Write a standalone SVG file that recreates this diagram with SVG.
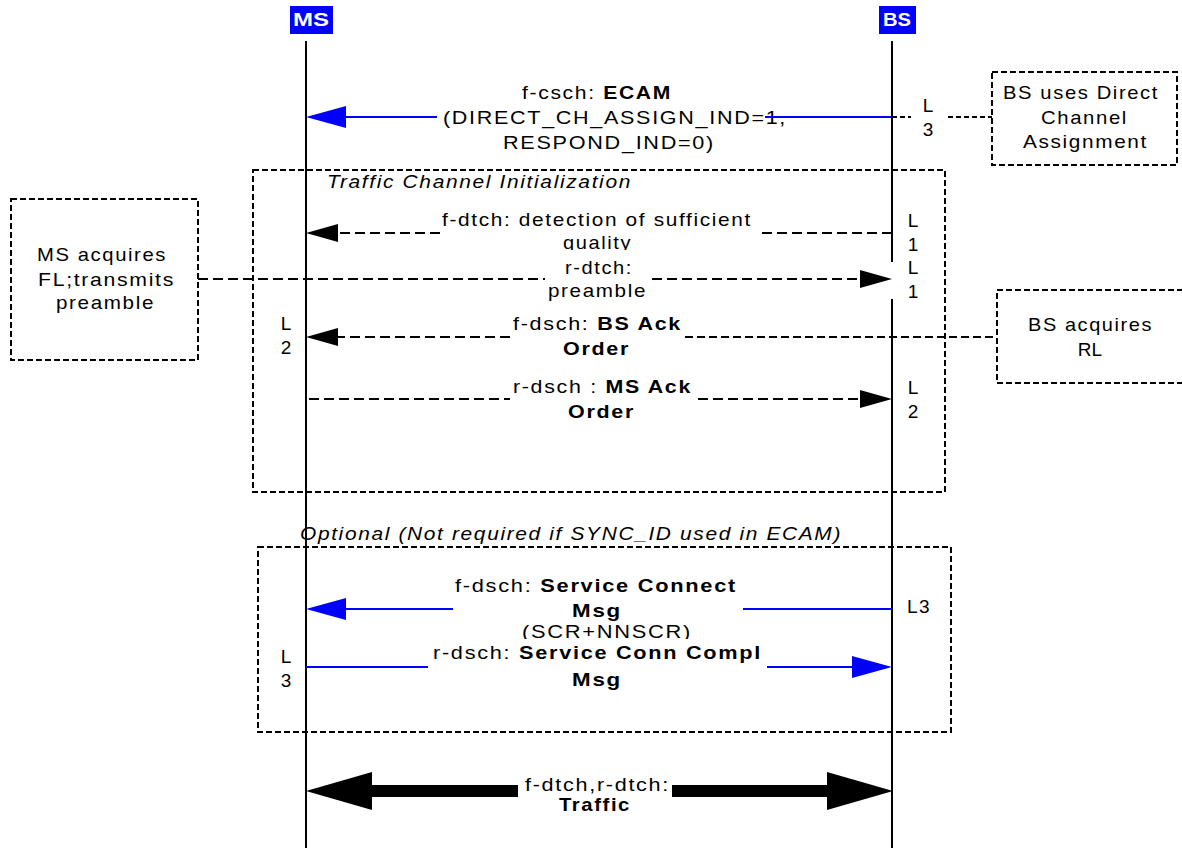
<svg xmlns="http://www.w3.org/2000/svg" width="1182" height="848" viewBox="0 0 1182 848">
<style>
text{font-family:"Liberation Sans",Arial,sans-serif;font-size:19px;fill:#000;letter-spacing:1.5px}
.b{font-weight:bold}
.i{font-style:italic}
.m{text-anchor:middle;letter-spacing:0}
.hdr{font-weight:bold;fill:#fff;font-size:18px;letter-spacing:0}
.life{stroke:#000;stroke-width:2;fill:none}
.frame{fill:none;stroke:#000;stroke-width:2;stroke-dasharray:6 3}
.note{fill:#fff;stroke:#000;stroke-width:2;stroke-dasharray:6 3}
.dmsg{stroke:#000;stroke-width:2;fill:none;stroke-dasharray:10 5}
.link{stroke:#000;stroke-width:2;fill:none;stroke-dasharray:8 4}
.slink{stroke:#000;stroke-width:2;fill:none;stroke-dasharray:5 3}
.bmsg{stroke:#0000ff;stroke-width:2;fill:none}
.thick{stroke:#000;stroke-width:12;fill:none}
</style>
<defs>
<marker id="hb" markerUnits="userSpaceOnUse" viewBox="0 0 40 22" markerWidth="40" markerHeight="22" refX="36" refY="11" orient="auto"><path d="M0,0 L40,11 L0,22 Z" fill="#0000ff" stroke="none"/></marker>
<marker id="hk" markerUnits="userSpaceOnUse" viewBox="0 0 32 18" markerWidth="32" markerHeight="18" refX="28" refY="9" orient="auto"><path d="M0,0 L32,9 L0,18 Z" fill="#000" stroke="none"/></marker>
<marker id="ht" markerUnits="userSpaceOnUse" viewBox="0 0 66 38" markerWidth="66" markerHeight="38" refX="0" refY="19" orient="auto"><path d="M0,0 L66,19 L0,38 Z" fill="#000" stroke="none"/></marker>
<clipPath id="cq"><rect x="520" y="225" width="160" height="25"/></clipPath>
<clipPath id="cs"><rect x="500" y="620" width="220" height="19"/></clipPath>
</defs>

<g id="MS">
<rect x="290" y="6" width="43" height="28" fill="#0000ff"/>
<text class="hdr" x="293" y="26" textLength="36" lengthAdjust="spacingAndGlyphs">MS</text>
<line class="life" x1="306" y1="41" x2="306" y2="848"/>
</g>
<g id="BS">
<rect x="879" y="6" width="37" height="28" fill="#0000ff"/>
<text class="hdr" x="883" y="26" textLength="28" lengthAdjust="spacingAndGlyphs">BS</text>
<line class="life" x1="892" y1="41" x2="892" y2="848"/>
<rect x="890" y="262" width="4" height="37" fill="#fff"/>
</g>

<g id="frame-tci">
<rect class="frame" x="253" y="170" width="692" height="322"/>
<text class="i" x="327" y="188" textLength="305" lengthAdjust="spacingAndGlyphs">Traffic Channel Initialization</text>
</g>
<g id="frame-optional">
<rect class="frame" x="258" y="547" width="693" height="185"/>
<text class="i" x="300" y="540" textLength="542" lengthAdjust="spacingAndGlyphs">Optional (Not required if SYNC_ID used in ECAM)</text>
</g>

<g id="note-direct">
<rect class="note" x="992" y="72" width="185" height="93"/>
<text x="1003" y="99" textLength="156" lengthAdjust="spacingAndGlyphs">BS uses Direct</text>
<text x="1041" y="124" textLength="87" lengthAdjust="spacingAndGlyphs">Channel</text>
<text x="1023" y="148" textLength="125" lengthAdjust="spacingAndGlyphs">Assignment</text>
</g>
<g id="note-ms-acquires">
<rect class="note" x="11" y="199" width="187" height="161"/>
<text x="37" y="261" textLength="130" lengthAdjust="spacingAndGlyphs">MS acquires</text>
<text x="38" y="286" textLength="137" lengthAdjust="spacingAndGlyphs">FL;transmits</text>
<text x="56" y="309" textLength="99" lengthAdjust="spacingAndGlyphs">preamble</text>
</g>
<g id="note-bs-acquires">
<rect class="note" x="997" y="290" width="186" height="93"/>
<text x="1028" y="331" textLength="125" lengthAdjust="spacingAndGlyphs">BS acquires</text>
<text class="m" x="1090" y="356" letter-spacing="-1">RL</text>
</g>

<g id="connectors">
<!-- ECAM -->
<line class="bmsg" x1="437" y1="117" x2="310" y2="117" marker-end="url(#hb)"/>
<text x="522" y="99" textLength="150" lengthAdjust="spacingAndGlyphs">f-csch: <tspan class="b">ECAM</tspan></text>
<text x="443" y="124" textLength="344" lengthAdjust="spacingAndGlyphs">(DIRECT_CH_ASSIGN_IND=1,</text>
<text x="503" y="149" textLength="212" lengthAdjust="spacingAndGlyphs">RESPOND_IND=0)</text>
<line class="bmsg" x1="765" y1="117" x2="892" y2="117"/>
<line class="slink" x1="892" y1="117" x2="911" y2="117"/>
<line class="slink" x1="948" y1="117" x2="992" y2="117"/>
<text class="m" x="928" y="112">L</text>
<text class="m" x="928" y="136">3</text>

<!-- f-dtch detection -->
<line class="dmsg" x1="440" y1="233" x2="310" y2="233" marker-end="url(#hk)"/>
<line class="dmsg" x1="892" y1="233" x2="757" y2="233"/>
<text x="442" y="226" textLength="310" lengthAdjust="spacingAndGlyphs">f-dtch: detection of sufficient</text>
<text x="563" y="249" textLength="69" lengthAdjust="spacingAndGlyphs" clip-path="url(#cq)">quality</text>
<text class="m" x="913" y="227">L</text>
<text class="m" x="913" y="251">1</text>

<!-- r-dtch preamble -->
<line class="dmsg" x1="198" y1="279" x2="545" y2="279"/>
<line class="dmsg" x1="652" y1="279" x2="888" y2="279" marker-end="url(#hk)"/>
<text x="565" y="274" textLength="68" lengthAdjust="spacingAndGlyphs">r-dtch:</text>
<text x="548" y="297" textLength="99" lengthAdjust="spacingAndGlyphs">preamble</text>
<text class="m" x="913" y="274">L</text>
<text class="m" x="913" y="298">1</text>

<!-- f-dsch BS Ack Order -->
<line class="dmsg" x1="510" y1="337" x2="310" y2="337" marker-end="url(#hk)"/>
<line class="link" x1="685" y1="337" x2="997" y2="337"/>
<text x="513" y="330" textLength="169" lengthAdjust="spacingAndGlyphs">f-dsch: <tspan class="b">BS Ack</tspan></text>
<text class="b" x="563" y="355" textLength="67" lengthAdjust="spacingAndGlyphs">Order</text>
<text class="m" x="286" y="330">L</text>
<text class="m" x="286" y="354">2</text>

<!-- r-dsch MS Ack Order -->
<line class="dmsg" x1="309" y1="399" x2="510" y2="399"/>
<line class="dmsg" x1="698" y1="399" x2="888" y2="399" marker-end="url(#hk)"/>
<text x="513" y="393" textLength="179" lengthAdjust="spacingAndGlyphs">r-dsch : <tspan class="b">MS Ack</tspan></text>
<text class="b" x="568" y="418" textLength="67" lengthAdjust="spacingAndGlyphs">Order</text>
<text class="m" x="913" y="394">L</text>
<text class="m" x="913" y="418">2</text>

<!-- f-dsch Service Connect -->
<line class="bmsg" x1="453" y1="609" x2="310" y2="609" marker-end="url(#hb)"/>
<line class="bmsg" x1="743" y1="609" x2="892" y2="609"/>
<text x="455" y="592" textLength="282" lengthAdjust="spacingAndGlyphs">f-dsch: <tspan class="b">Service Connect</tspan></text>
<text class="b" x="572" y="617" textLength="50" lengthAdjust="spacingAndGlyphs">Msg</text>
<text x="522" y="638" textLength="170" lengthAdjust="spacingAndGlyphs" clip-path="url(#cs)">(SCR+NNSCR)</text>
<text x="907" y="613" letter-spacing="0">L3</text>

<!-- r-dsch Service Conn Compl -->
<line class="bmsg" x1="306" y1="667" x2="428" y2="667"/>
<line class="bmsg" x1="767" y1="667" x2="888" y2="667" marker-end="url(#hb)"/>
<text x="433" y="659" textLength="329" lengthAdjust="spacingAndGlyphs">r-dsch: <tspan class="b">Service Conn Compl</tspan></text>
<text class="b" x="572" y="686" textLength="50" lengthAdjust="spacingAndGlyphs">Msg</text>
<text class="m" x="286" y="663">L</text>
<text class="m" x="286" y="687">3</text>

<!-- Traffic -->
<line class="thick" x1="518" y1="791" x2="372" y2="791" marker-end="url(#ht)"/>
<line class="thick" x1="672" y1="791" x2="827" y2="791" marker-end="url(#ht)"/>
<text x="525" y="791" font-size="18" textLength="145" lengthAdjust="spacingAndGlyphs">f-dtch,r-dtch:</text>
<text class="b" x="559" y="811" font-size="18" textLength="72" lengthAdjust="spacingAndGlyphs">Traffic</text>
</g>
</svg>
